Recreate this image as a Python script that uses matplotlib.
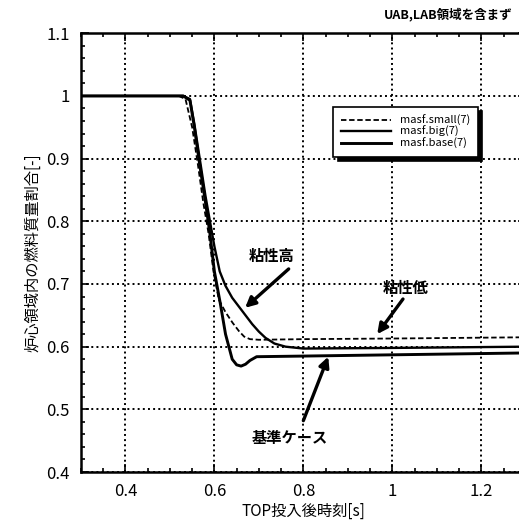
import matplotlib
matplotlib.use('Agg')
import matplotlib.pyplot as plt
from matplotlib.ticker import MultipleLocator, FuncFormatter

plt.rcParams['font.family'] = ['Noto Sans CJK JP', 'DejaVu Sans']

# fuel mass fraction in core region vs time after TOP
base_t = [0.30, 0.53, 0.545, 0.555, 0.567, 0.58, 0.59, 0.60, 0.613, 0.625, 0.64, 0.65, 0.66, 0.67, 0.68, 0.695, 0.80, 1.0, 1.3]
base_y = [1.0, 1.0, 0.993, 0.95, 0.89, 0.83, 0.78, 0.72, 0.67, 0.62, 0.58, 0.571, 0.569, 0.572, 0.578, 0.584, 0.585, 0.587, 0.59]

big_t = [0.30, 0.53, 0.545, 0.555, 0.567, 0.58, 0.59, 0.60, 0.612, 0.625, 0.64, 0.655, 0.67, 0.685, 0.70, 0.715, 0.735, 0.76, 0.80, 1.0, 1.3]
big_y = [1.0, 1.0, 0.995, 0.955, 0.90, 0.84, 0.80, 0.76, 0.72, 0.697, 0.678, 0.664, 0.65, 0.636, 0.624, 0.614, 0.605, 0.60, 0.597, 0.598, 0.60]

small_t = [0.30, 0.52, 0.535, 0.55, 0.563, 0.575, 0.587, 0.598, 0.61, 0.625, 0.641, 0.655, 0.667, 0.68, 0.70, 0.80, 1.0, 1.3]
small_y = [1.0, 1.0, 0.995, 0.95, 0.89, 0.83, 0.78, 0.72, 0.675, 0.655, 0.638, 0.625, 0.616, 0.612, 0.611, 0.612, 0.613, 0.615]

xticks = [0.4, 0.6, 0.8, 1.0, 1.2]
yticks = [0.4, 0.5, 0.6, 0.7, 0.8, 0.9, 1.0, 1.1]

fig = plt.figure(figsize=(5.19, 5.28), dpi=100)
ax = fig.add_axes([0.156, 0.106, 0.857, 0.831])

ax.plot(small_t, small_y, color='black', lw=1.3, ls=(0, (3, 1.5)), label='masf.small(7)')
ax.plot(big_t, big_y, color='black', lw=1.7, label='masf.big(7)')
ax.plot(base_t, base_y, color='black', lw=2.1, label='masf.base(7)')

ax.set_xlim(0.3, 1.3)
ax.set_ylim(0.4, 1.1)
ax.set_xticks(xticks)
ax.set_yticks(yticks)
fmt = FuncFormatter(lambda v, p: ('%g' % round(v, 2)))
ax.xaxis.set_major_formatter(fmt)
ax.yaxis.set_major_formatter(fmt)
ax.xaxis.set_minor_locator(MultipleLocator(0.05))
ax.yaxis.set_minor_locator(MultipleLocator(0.02))
ax.tick_params(which='both', direction='in', top=True, right=True, width=1.2)
ax.tick_params(which='major', length=6, labelsize=12, pad=8)
ax.tick_params(which='minor', length=3)
for s in ax.spines.values():
    s.set_linewidth(1.8)

ax.grid(True, which='major', color='black', ls=':', lw=1.4)

ax.set_xlabel('TOP投入後時刻[s]', fontsize=11, labelpad=2)
ax.set_ylabel('炉心領域内の燃料質量割合[-]', fontsize=11, labelpad=4)

leg = ax.legend(loc='upper left', bbox_to_anchor=(0.555, 0.845), fontsize=8,
                fancybox=False, edgecolor='black', framealpha=1,
                shadow={'color': 'black', 'alpha': 1, 'ox': 3, 'oy': -3},
                handlelength=4.5, labelspacing=0.05, borderpad=0.7)
leg.get_frame().set_linewidth(1.2)

# callout labels, each with an arrow pointing at its curve
arrow = dict(arrowstyle='-|>', color='black', lw=2.4, mutation_scale=15, shrinkA=0, shrinkB=0)
callouts = [
    ('粘性高', (0.728, 0.745), (0.767, 0.724), (0.669, 0.662)),
    ('粘性低', (1.03, 0.694), (1.024, 0.676), (0.966, 0.62)),
    ('基準ケース', (0.77, 0.455), (0.80, 0.482), (0.856, 0.584)),
]
for label, text_pos, tail, tip in callouts:
    ax.text(*text_pos, label, fontsize=11, fontweight='bold', ha='center', va='center')
    ax.annotate('', xy=tip, xytext=tail, arrowprops=arrow)

fig.text(0.987, 0.972, 'UAB,LAB領域を含まず', ha='right', va='center', fontsize=9, fontweight='bold')

fig.savefig('out.png', dpi=100)
